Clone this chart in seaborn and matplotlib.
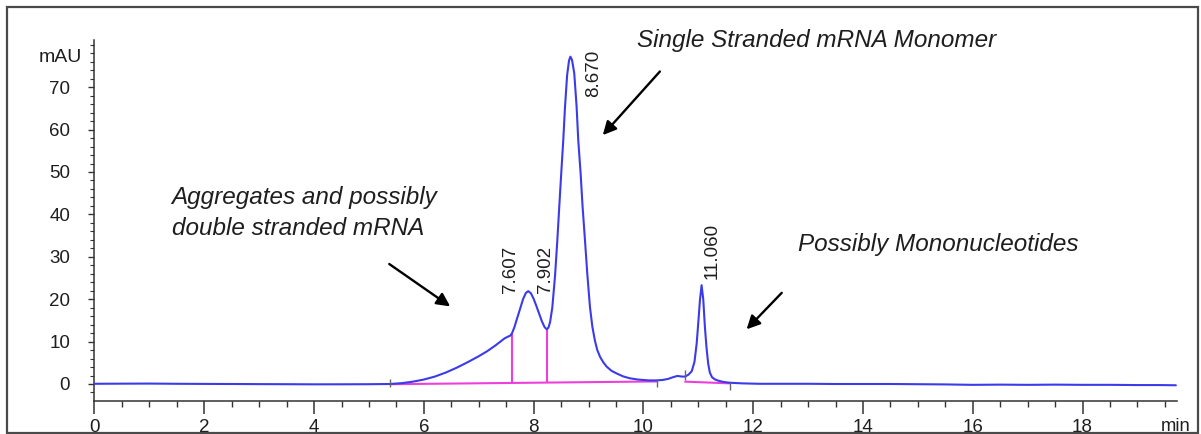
import numpy as np
import pandas as pd
import matplotlib
matplotlib.use("Agg")
import matplotlib.pyplot as plt
from matplotlib.patches import Rectangle
import seaborn as sns

# Chromatogram trace: retention time (min) and detector response (mAU)
time_min = [
    0.00, 0.50, 1.00, 1.50, 2.00, 2.50, 3.00, 3.50, 4.00, 4.50, 5.00, 5.38,
    5.60, 5.80, 6.00, 6.20, 6.40, 6.60, 6.80, 7.00, 7.15, 7.30, 7.40, 7.47,
    7.53, 7.58, 7.607, 7.65, 7.69, 7.75, 7.81, 7.86, 7.902, 7.95, 8.00, 8.05,
    8.10, 8.15, 8.20, 8.240, 8.27, 8.30, 8.34, 8.39, 8.43, 8.467, 8.503, 8.54,
    8.57, 8.61, 8.645, 8.670, 8.70, 8.74, 8.783, 8.813, 8.856, 8.892, 8.935,
    8.977, 9.026, 9.07, 9.117, 9.16, 9.21, 9.27, 9.33, 9.42, 9.51, 9.63, 9.75,
    9.90, 10.10, 10.24, 10.35, 10.45, 10.55, 10.62, 10.70, 10.76, 10.82, 10.88,
    10.93, 10.97, 11.00, 11.03, 11.060, 11.09, 11.12, 11.15, 11.18, 11.21,
    11.25, 11.30, 11.36, 11.45, 11.57, 11.80, 12.10, 12.50, 13.00, 13.50,
    14.00, 14.50, 15.00, 15.50, 16.00, 16.50, 17.00, 17.50, 18.00, 18.50,
    19.00, 19.40, 19.70,
]
signal_mau = [
    0.05, 0.08, 0.10, 0.05, 0.02, 0.00, -0.03, -0.05, -0.08, -0.07, -0.05, 0.00,
    0.20, 0.55, 1.05, 1.75, 2.70, 3.85, 5.15, 6.55, 7.70, 9.05, 10.05, 10.75,
    11.15, 11.45, 12.00, 13.40, 15.10, 17.60, 20.10, 21.50, 21.90, 21.40, 20.10, 18.40,
    16.60, 14.80, 13.40, 12.90, 13.30, 14.60, 18.00, 25.50, 33.50, 41.80, 49.70, 57.50,
    65.00, 72.80, 76.30, 77.20, 76.40, 73.30, 65.40, 57.50, 49.70, 41.80, 34.00,
    26.10, 18.20, 13.50, 10.20, 8.00, 6.40, 5.10, 4.10, 3.10, 2.50, 1.80, 1.35,
    1.05, 0.85, 0.85, 0.95, 1.20, 1.65, 1.90, 1.75, 1.75, 2.20, 3.00,
    5.20, 9.50, 14.50, 19.80, 23.30, 20.00, 13.50, 8.50, 4.80, 2.70,
    1.60, 1.10, 0.80, 0.50, 0.30, 0.15, 0.05, 0.05, 0.05, 0.00,
    0.00, 0.00, -0.05, -0.10, -0.20, -0.15, -0.20, -0.15, -0.20, -0.20,
    -0.25, -0.25, -0.30,
]

# Integration baselines (start/end time, start/end response)
base_x = [[5.38, 10.24], [10.76, 11.57]]
base_y = [[-0.05, 0.60], [0.55, 0.15]]

# Peak separation drop lines
drop_x = [7.607, 8.240]
drop_bottom = [0.27, 0.35]
drop_top = [12.00, 12.90]

# Integration event markers
event_x = [5.38, 10.24, 10.76, 11.57]
event_lo = [-0.6, -0.6, 0.9, -1.4]
event_hi = [1.2, 0.9, 3.3, 0.3]

# Retention-time labels and where they are written
peak_rt = ["7.607", "7.902", "8.670", "11.060"]
peak_label_x = [7.57, 8.21, 9.09, 11.26]
peak_label_y = [21.4, 21.4, 67.6, 24.7]

x_major = [0, 2, 4, 6, 8, 10, 12, 14, 16, 18]
y_major = [0, 10, 20, 30, 40, 50, 60, 70]

sns.set_style("ticks")
plt.rcParams["font.family"] = ["Liberation Sans", "DejaVu Sans"]

TXT = "#1e1e1e"
BLUE = "#3b3bea"
PINK = "#ee3fdc"

fig = plt.figure(figsize=(12.01, 4.34), dpi=100)
fig.patch.set_facecolor("white")
ax = fig.add_axes([0.07868, 0.07604, 0.9013, 0.8318])

trace = pd.DataFrame({"time": time_min, "mAU": signal_mau})
sns.lineplot(data=trace, x="time", y="mAU", ax=ax, color=BLUE, lw=1.5,
             estimator=None, sort=False, zorder=4)

for bx, by in zip(base_x, base_y):
    ax.plot(bx, by, color=PINK, lw=1.5, zorder=3)
ax.vlines(drop_x, drop_bottom, drop_top, color=PINK, lw=1.5, zorder=3)
ax.vlines(event_x, event_lo, event_hi, color="#666666", lw=1.0, zorder=5)

for lab, lx, ly in zip(peak_rt, peak_label_x, peak_label_y):
    ax.text(lx, ly, lab, rotation=90, ha="center", va="bottom",
            fontsize=13.5, color=TXT, zorder=6)

# Annotations
ital = dict(fontsize=17.5, style="italic", color=TXT, va="baseline", ha="left")
ax.text(9.88, 79.55, "Single Stranded mRNA Monomer", clip_on=False, **ital)
ax.text(1.406, 42.45, "Aggregates and possibly", **ital)
ax.text(1.406, 35.1, "double stranded mRNA", **ital)
ax.text(12.82, 31.44, "Possibly Mononucleotides", **ital)

arrow = dict(arrowstyle="-|>", color="black", lw=1.7, mutation_scale=20,
             shrinkA=0, shrinkB=0)
ax.annotate("", xy=(6.48, 18.3), xytext=(5.37, 28.3), arrowprops=arrow)
ax.annotate("", xy=(9.26, 58.7), xytext=(10.30, 73.7), arrowprops=arrow)
ax.annotate("", xy=(11.88, 12.9), xytext=(12.52, 21.5), arrowprops=arrow)

# Axes
ax.set_xlim(0, 19.72)
ax.set_ylim(-4.01, 81.13)
ax.set_xticks(x_major)
ax.set_xticks(np.arange(0.5, 19.6, 0.5), minor=True)
ax.set_yticks(y_major)
ax.set_yticks(np.arange(-2, 81, 2), minor=True)
ax.set_xticklabels([str(v) for v in x_major])
ax.set_yticklabels([str(v) for v in y_major])
ax.set_xlabel("")
ax.set_ylabel("")
ax.tick_params(axis="x", which="major", length=9.4, width=1.1, pad=3.6,
               labelsize=13.5, colors="#333333", labelcolor=TXT)
ax.tick_params(axis="x", which="minor", length=4.1, width=1.0, colors="#333333")
ax.tick_params(axis="y", which="major", length=4.3, width=1.0, pad=13.3,
               labelsize=13.5, colors="#333333", labelcolor=TXT)
ax.tick_params(axis="y", which="minor", length=2.6, width=0.8, colors="#333333")
for side in ("top", "right"):
    ax.spines[side].set_visible(False)
for side in ("left", "bottom"):
    ax.spines[side].set_color("#333333")
    ax.spines[side].set_linewidth(1.1)

ax.text(-0.233, 76.0, "mAU", fontsize=14, color=TXT, ha="right",
        va="baseline", clip_on=False)
ax.text(19.42, -11.0, "min", fontsize=13.3, color=TXT, ha="left",
        va="baseline", clip_on=False)

fig.add_artist(Rectangle((7 / 1201, 1.3 / 434), 1190.7 / 1201, 425.4 / 434,
                         transform=fig.transFigure, fill=False,
                         edgecolor="#4a4a4a", lw=1.6, zorder=10))

fig.savefig("out.png", dpi=100)
